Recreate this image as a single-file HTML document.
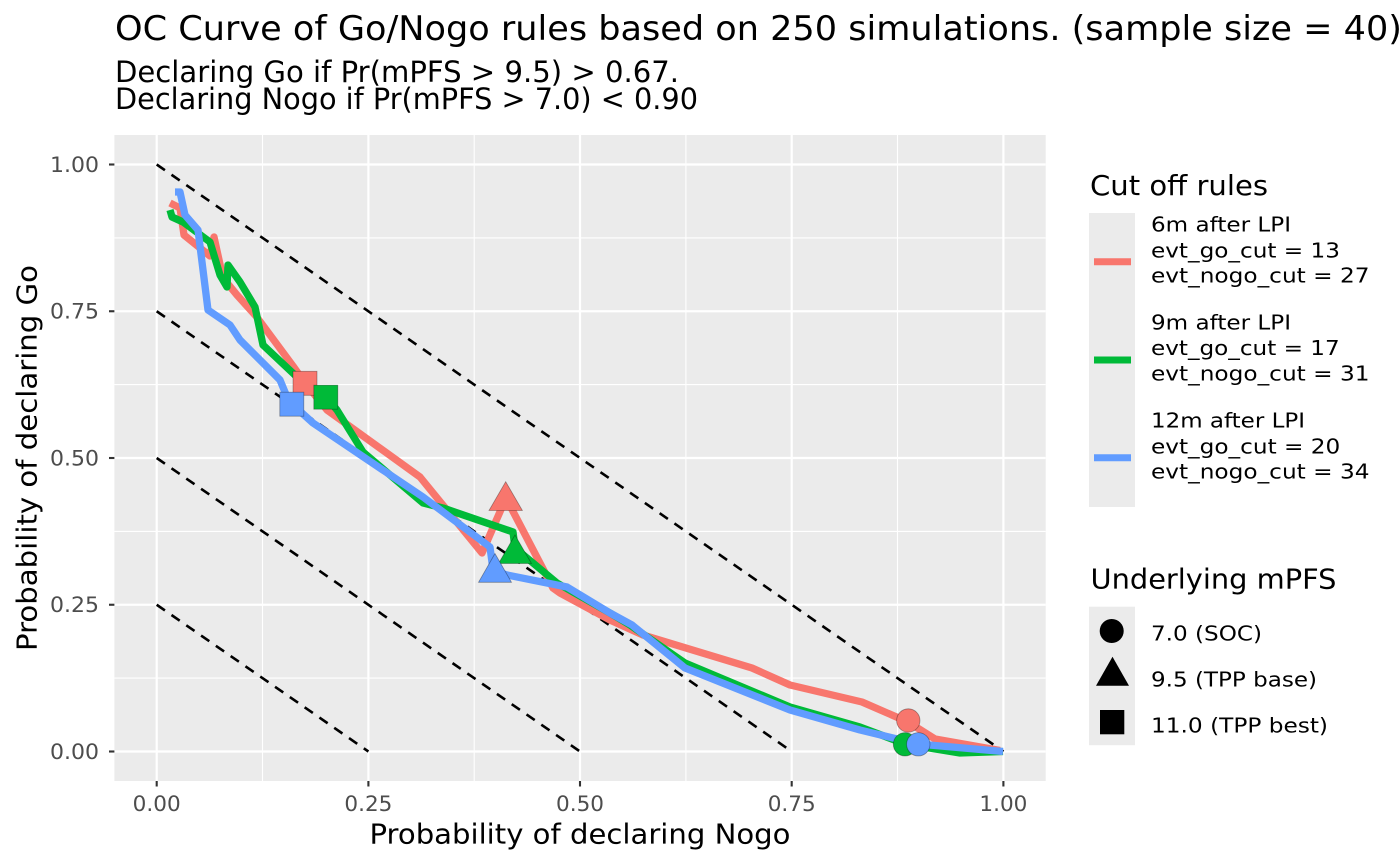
<!DOCTYPE html>
<html>
<head>
<meta charset="utf-8">
<style>
html,body{margin:0;padding:0;background:#fff;}
svg{display:block;}
text{font-family:"DejaVu Sans","Liberation Sans",sans-serif;}
</style>
</head>
<body>
<svg width="1400" height="865" viewBox="0 0 1400 865" xmlns="http://www.w3.org/2000/svg">
<rect width="1400" height="865" fill="#fff"/>
<!-- title -->
<text x="115" y="40" font-size="33.5" fill="#000" textLength="1287" lengthAdjust="spacingAndGlyphs">OC Curve of Go/Nogo rules based on 250 simulations. (sample size = 40)</text>
<text x="115" y="82" font-size="29" fill="#000" textLength="564" lengthAdjust="spacingAndGlyphs">Declaring Go if Pr(mPFS &gt; 9.5) &gt; 0.67.</text>
<text x="115" y="109" font-size="29" fill="#000" textLength="583" lengthAdjust="spacingAndGlyphs">Declaring Nogo if Pr(mPFS &gt; 7.0) &lt; 0.90</text>

<!-- panel -->
<rect x="114.4" y="135" width="931.3" height="646" fill="#EBEBEB"/>
<g stroke="#fff" fill="none">
  <g stroke-width="1.1">
    <line x1="262.5" y1="135" x2="262.5" y2="781"/>
    <line x1="474.2" y1="135" x2="474.2" y2="781"/>
    <line x1="685.9" y1="135" x2="685.9" y2="781"/>
    <line x1="897.5" y1="135" x2="897.5" y2="781"/>
    <line x1="114.4" y1="237.9" x2="1045.7" y2="237.9"/>
    <line x1="114.4" y1="384.6" x2="1045.7" y2="384.6"/>
    <line x1="114.4" y1="531.4" x2="1045.7" y2="531.4"/>
    <line x1="114.4" y1="678.1" x2="1045.7" y2="678.1"/>
  </g>
  <g stroke-width="2.2">
    <line x1="156.7" y1="135" x2="156.7" y2="781"/>
    <line x1="368.4" y1="135" x2="368.4" y2="781"/>
    <line x1="580" y1="135" x2="580" y2="781"/>
    <line x1="791.7" y1="135" x2="791.7" y2="781"/>
    <line x1="1003.4" y1="135" x2="1003.4" y2="781"/>
    <line x1="114.4" y1="164.5" x2="1045.7" y2="164.5"/>
    <line x1="114.4" y1="311.25" x2="1045.7" y2="311.25"/>
    <line x1="114.4" y1="458" x2="1045.7" y2="458"/>
    <line x1="114.4" y1="604.75" x2="1045.7" y2="604.75"/>
    <line x1="114.4" y1="751.5" x2="1045.7" y2="751.5"/>
  </g>
</g>

<!-- dashed reference lines -->
<g stroke="#000" stroke-width="2.6" stroke-dasharray="10 8" fill="none">
  <line x1="156.7" y1="164.5" x2="1003.4" y2="751.5"/>
  <line x1="156.7" y1="311.25" x2="791.7" y2="751.5"/>
  <line x1="156.7" y1="458" x2="580" y2="751.5"/>
  <line x1="156.7" y1="604.75" x2="368.4" y2="751.5"/>
</g>

<!-- curves -->
<g fill="none" stroke-width="7.3" stroke-linejoin="round" stroke-linecap="butt">
  <polyline stroke="#F8766D" points="170,203 180,208 184,235 210,256 214,237 223,278 237,295 256,316 293,366 305,383 327,410 420,477 482,553 506,498 553,588 560,593 610,620 643,635 752,668 790,685 862,702 908,722 935,739 1000,750.5"/>
  <polyline stroke="#00BA38" points="170,210 172,217 183,222 210,242 220,275 227,287 228,265 240,282 255,307 263,345 297,377 326,397 337,410 363,452 423,503 443,508 513,532 515,548 557,583 610,613 630,625 685,663 790,707 860,727 905,744 960,753 1003,751.5"/>
  <polyline stroke="#619CFF" points="175,192 180,192 185,215 198,230 208,310 230,325 240,340 280,380 287,397 292,404 313,423 423,497 490,547 493,570 507,575 567,587 610,613 632,625 685,668 790,710 860,730 918,744 1003,751.5"/>
</g>

<!-- points -->
<g stroke="rgba(0,0,0,0.35)" stroke-width="0.8">
  <rect x="293" y="371.3" width="24" height="24" fill="#F8766D"/>
  <rect x="313.8" y="385.2" width="24" height="24" fill="#00BA38"/>
  <rect x="279.8" y="392.2" width="24" height="24" fill="#619CFF"/>
  <polygon points="505.7,481.7 489,510.5 522.4,510.5" fill="#F8766D"/>
  <polygon points="515,535 498.5,563.5 531.5,563.5" fill="#00BA38"/>
  <polygon points="495,553.5 478.5,582.3 511.5,582.3" fill="#619CFF"/>
  <circle cx="908.3" cy="720.5" r="11.7" fill="#F8766D"/>
  <circle cx="905" cy="744.3" r="11.7" fill="#00BA38"/>
  <circle cx="918.3" cy="744.3" r="11.7" fill="#619CFF"/>
</g>

<!-- axis ticks -->
<g stroke="#333" stroke-width="2.1">
  <line x1="109" y1="164.5" x2="114.4" y2="164.5"/>
  <line x1="109" y1="311.25" x2="114.4" y2="311.25"/>
  <line x1="109" y1="458" x2="114.4" y2="458"/>
  <line x1="109" y1="604.75" x2="114.4" y2="604.75"/>
  <line x1="109" y1="751.5" x2="114.4" y2="751.5"/>
  <line x1="156.7" y1="781" x2="156.7" y2="786.5"/>
  <line x1="368.4" y1="781" x2="368.4" y2="786.5"/>
  <line x1="580" y1="781" x2="580" y2="786.5"/>
  <line x1="791.7" y1="781" x2="791.7" y2="786.5"/>
  <line x1="1003.4" y1="781" x2="1003.4" y2="786.5"/>
</g>
<g font-size="21.5" fill="#4D4D4D">
  <text x="99" y="172" text-anchor="end" textLength="49" lengthAdjust="spacingAndGlyphs">1.00</text>
  <text x="99" y="318.7" text-anchor="end" textLength="49" lengthAdjust="spacingAndGlyphs">0.75</text>
  <text x="99" y="465.5" text-anchor="end" textLength="49" lengthAdjust="spacingAndGlyphs">0.50</text>
  <text x="99" y="612.2" text-anchor="end" textLength="49" lengthAdjust="spacingAndGlyphs">0.25</text>
  <text x="99" y="759" text-anchor="end" textLength="49" lengthAdjust="spacingAndGlyphs">0.00</text>
  <text x="156.7" y="811" text-anchor="middle" textLength="48" lengthAdjust="spacingAndGlyphs">0.00</text>
  <text x="368.4" y="811" text-anchor="middle" textLength="48" lengthAdjust="spacingAndGlyphs">0.25</text>
  <text x="580" y="811" text-anchor="middle" textLength="48" lengthAdjust="spacingAndGlyphs">0.50</text>
  <text x="791.7" y="811" text-anchor="middle" textLength="48" lengthAdjust="spacingAndGlyphs">0.75</text>
  <text x="1003.4" y="811" text-anchor="middle" textLength="48" lengthAdjust="spacingAndGlyphs">1.00</text>
</g>

<!-- axis titles -->
<text x="580" y="843.3" font-size="27.5" fill="#000" text-anchor="middle" textLength="421" lengthAdjust="spacingAndGlyphs">Probability of declaring Nogo</text>
<text x="0" y="0" font-size="27.5" fill="#000" text-anchor="middle" textLength="386" lengthAdjust="spacingAndGlyphs" transform="translate(36.5,458) rotate(-90)">Probability of declaring Go</text>

<!-- legend 1 -->
<text x="1090" y="195" font-size="27.5" fill="#000" textLength="178" lengthAdjust="spacingAndGlyphs">Cut off rules</text>
<rect x="1089" y="213" width="46" height="294" fill="#EBEBEB"/>
<g stroke-width="7">
  <line x1="1094" y1="261.7" x2="1131" y2="261.7" stroke="#F8766D"/>
  <line x1="1094" y1="360" x2="1131" y2="360" stroke="#00BA38"/>
  <line x1="1094" y1="457.7" x2="1131" y2="457.7" stroke="#619CFF"/>
</g>
<g font-size="20.5" fill="#000">
  <text x="1151" y="231.7" textLength="140" lengthAdjust="spacingAndGlyphs">6m after LPI</text>
  <text x="1151" y="257.3" textLength="189" lengthAdjust="spacingAndGlyphs">evt_go_cut = 13</text>
  <text x="1151" y="282.7" textLength="218.5" lengthAdjust="spacingAndGlyphs">evt_nogo_cut = 27</text>
  <text x="1151" y="329.3" textLength="140" lengthAdjust="spacingAndGlyphs">9m after LPI</text>
  <text x="1151" y="355" textLength="188.7" lengthAdjust="spacingAndGlyphs">evt_go_cut = 17</text>
  <text x="1151" y="380.7" textLength="218.5" lengthAdjust="spacingAndGlyphs">evt_nogo_cut = 31</text>
  <text x="1151" y="427.7" textLength="154" lengthAdjust="spacingAndGlyphs">12m after LPI</text>
  <text x="1151" y="453.3" textLength="189.3" lengthAdjust="spacingAndGlyphs">evt_go_cut = 20</text>
  <text x="1151" y="478.7" textLength="218.5" lengthAdjust="spacingAndGlyphs">evt_nogo_cut = 34</text>
</g>

<!-- legend 2 -->
<text x="1090.5" y="588.3" font-size="27.5" fill="#000" textLength="246" lengthAdjust="spacingAndGlyphs">Underlying mPFS</text>
<rect x="1089" y="606.7" width="46" height="138.5" fill="#EBEBEB"/>
<circle cx="1111.7" cy="631" r="12" fill="#000"/>
<polygon points="1112.5,656.7 1096,685.7 1129,685.7" fill="#000"/>
<rect x="1100" y="710" width="24.3" height="24.3" fill="#000"/>
<g font-size="20.5" fill="#000">
  <text x="1151" y="640.7" textLength="111" lengthAdjust="spacingAndGlyphs">7.0 (SOC)</text>
  <text x="1151" y="686.7" textLength="166" lengthAdjust="spacingAndGlyphs">9.5 (TPP base)</text>
  <text x="1151" y="732.7" textLength="177" lengthAdjust="spacingAndGlyphs">11.0 (TPP best)</text>
</g>
</svg>
</body>
</html>
